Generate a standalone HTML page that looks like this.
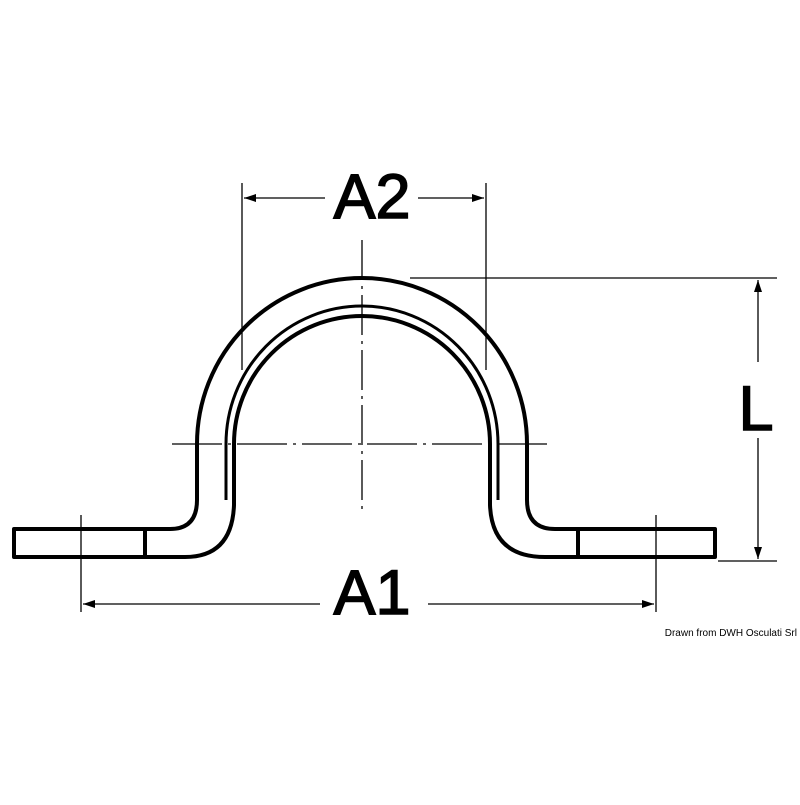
<!DOCTYPE html>
<html><head><style>html,body{margin:0;padding:0;background:#fff}</style></head>
<body>
<svg width="800" height="800" viewBox="0 0 800 800" xmlns="http://www.w3.org/2000/svg">
<defs>
<marker id="ar" markerWidth="12" markerHeight="8" refX="12" refY="4" orient="auto" markerUnits="userSpaceOnUse">
<path d="M0,0 L12,4 L0,8 Z" fill="#000"/></marker>
</defs>
<rect width="800" height="800" fill="#fff"/>
<g stroke="#000" stroke-width="1.3" fill="none">
<line x1="242" y1="183" x2="242" y2="370"/>
<line x1="486" y1="183" x2="486" y2="370"/>
<line x1="81" y1="515" x2="81" y2="612"/>
<line x1="656" y1="515" x2="656" y2="612"/>
<line x1="410" y1="278" x2="777" y2="278"/>
<line x1="718" y1="561" x2="777" y2="561"/>
<line x1="325" y1="198" x2="244" y2="198" marker-end="url(#ar)"/>
<line x1="418" y1="198" x2="484" y2="198" marker-end="url(#ar)"/>
<line x1="320" y1="604" x2="83" y2="604" marker-end="url(#ar)"/>
<line x1="428" y1="604" x2="654" y2="604" marker-end="url(#ar)"/>
<line x1="758" y1="362" x2="758" y2="280" marker-end="url(#ar)"/>
<line x1="758" y1="438" x2="758" y2="559" marker-end="url(#ar)"/>
<line x1="362" y1="240" x2="362" y2="510" stroke-dasharray="40,6,3,6"/>
<line x1="172" y1="444" x2="552" y2="444" stroke-dasharray="50,6,3,6"/>
</g>
<g stroke="#000" stroke-width="4" fill="none" stroke-linejoin="round">
<path d="M145,529 L14,529 L14,557 L185,557 Q232,557 234,505 L234,444 A128,128 0 0 1 490,444 L490,505 Q492,557 545,557 L715,557 L715,529 L555,529 Q527,529 527,500 L527,444 A165,166 0 0 0 197,444 L197,500 Q197,529 170,529 Z"/>
<line x1="145" y1="529" x2="145" y2="557"/>
<line x1="578" y1="529" x2="578" y2="557"/>
</g>
<path d="M226,500 L226,444 A136,138 0 0 1 498,444 L498,500" stroke="#000" stroke-width="3" fill="none"/>
<g font-family="Liberation Sans, Arial, sans-serif" fill="#000" stroke="#000" stroke-width="1.5">
<text x="372" y="218" font-size="63" text-anchor="middle">A2</text>
<text x="372" y="614" font-size="63" text-anchor="middle">A1</text>
<text x="756" y="430" font-size="63" text-anchor="middle">L</text>
</g>
<text x="797" y="636" font-size="10" text-anchor="end" font-family="Liberation Sans, Arial, sans-serif" fill="#000">Drawn from DWH Osculati Srl</text>
</svg>
</body></html>
